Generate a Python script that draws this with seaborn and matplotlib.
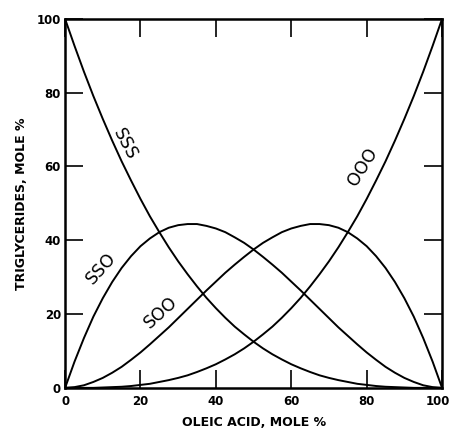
import pandas as pd
import seaborn as sns
import matplotlib
matplotlib.use("Agg")
import matplotlib.pyplot as plt
from matplotlib.transforms import ScaledTranslation

# oleic acid, mole %
oleic = [0, 2.5, 5, 7.5, 10, 12.5, 15, 17.5, 20, 22.5, 25, 27.5, 30, 32.5, 35, 37.5, 40,
         42.5, 45, 47.5, 50, 52.5, 55, 57.5, 60, 62.5, 65, 67.5, 70, 72.5, 75, 77.5, 80,
         82.5, 85, 87.5, 90, 92.5, 95, 97.5, 100]

# triglyceride composition, mole %
sss = [100, 92.7, 85.7, 79.1, 72.9, 67.0, 61.4, 56.2, 51.2, 46.5, 42.2, 38.1, 34.3, 30.8,
       27.5, 24.4, 21.6, 19.0, 16.6, 14.5, 12.5, 10.7, 9.1, 7.7, 6.4, 5.3, 4.3, 3.4, 2.7,
       2.1, 1.6, 1.1, 0.8, 0.5, 0.3, 0.2, 0.1, 0.0, 0.0, 0.0, 0]
sso = [0, 7.1, 13.5, 19.3, 24.3, 28.7, 32.5, 35.7, 38.4, 40.5, 42.2, 43.4, 44.1, 44.4,
       44.4, 43.9, 43.2, 42.2, 40.8, 39.3, 37.5, 35.5, 33.4, 31.2, 28.8, 26.4, 23.9, 21.4,
       18.9, 16.4, 14.1, 11.8, 9.6, 7.6, 5.7, 4.1, 2.7, 1.6, 0.7, 0.2, 0]
soo = [0, 0.2, 0.7, 1.6, 2.7, 4.1, 5.7, 7.6, 9.6, 11.8, 14.1, 16.4, 18.9, 21.4, 23.9,
       26.4, 28.8, 31.2, 33.4, 35.5, 37.5, 39.3, 40.8, 42.2, 43.2, 43.9, 44.4, 44.4, 44.1,
       43.4, 42.2, 40.5, 38.4, 35.7, 32.5, 28.7, 24.3, 19.3, 13.5, 7.1, 0]
ooo = [0, 0.0, 0.0, 0.0, 0.1, 0.2, 0.3, 0.5, 0.8, 1.1, 1.6, 2.1, 2.7, 3.4, 4.3, 5.3, 6.4,
       7.7, 9.1, 10.7, 12.5, 14.5, 16.6, 19.0, 21.6, 24.4, 27.5, 30.8, 34.3, 38.1, 42.2,
       46.5, 51.2, 56.2, 61.4, 67.0, 72.9, 79.1, 85.7, 92.7, 100]

ticks = [0, 20, 40, 60, 80, 100]
tick_labels = ["0", "20", "40", "60", "80", "100"]

df = pd.DataFrame({"oleic": oleic, "SSS": sss, "SSO": sso, "SOO": soo, "OOO": ooo})
long = df.melt(id_vars="oleic", var_name="tg", value_name="pct")

sns.set_style("ticks")
plt.rcParams["font.family"] = ["DejaVu Sans"]
plt.rcParams["text.color"] = "black"
plt.rcParams["axes.labelcolor"] = "black"
plt.rcParams["xtick.color"] = "black"
plt.rcParams["ytick.color"] = "black"

fig = plt.figure(figsize=(4.52, 4.30), dpi=100)
ax = fig.add_axes([0.144, 0.098, 0.834, 0.858])

sns.lineplot(data=long, x="oleic", y="pct", hue="tg", units="tg", estimator=None,
             palette=["black"] * 4, linewidth=1.4, legend=False, ax=ax)

ax.set_xlim(0, 100)
ax.set_ylim(0, 100)
ax.set_xticks(ticks)
ax.set_yticks(ticks)
ax.set_xticklabels(tick_labels, fontsize=8.5, fontweight="bold")
ax.set_yticklabels(tick_labels, fontsize=8.5, fontweight="bold")
ax.tick_params(direction="in", length=13, width=1.2, top=True, right=True,
               labeltop=False, labelright=False, pad=3)
ax.tick_params(axis="x", pad=5)
# nudge the last x label so it stays inside the figure
last = ax.get_xticklabels()[-1]
last.set_transform(last.get_transform() + ScaledTranslation(-3 / 72, 0, fig.dpi_scale_trans))
for sp in ax.spines.values():
    sp.set_linewidth(1.8)
    sp.set_color("black")

ax.set_xlabel("OLEIC ACID, MOLE %", fontsize=9, fontweight="bold", labelpad=6)
ax.set_ylabel("TRIGLYCERIDES, MOLE %", fontsize=9, fontweight="bold", labelpad=6)

lab_kw = dict(fontsize=12.5, ha="center", va="center", rotation_mode="anchor")
ax.text(16.0, 66.0, "SSS", rotation=-62, **lab_kw)
ax.text(9.5, 32.5, "SSO", rotation=48, **lab_kw)
ax.text(25.5, 20.5, "SOO", rotation=42, **lab_kw)
ax.text(79, 60, "OOO", rotation=58, **lab_kw)

fig.savefig("out.png", dpi=100)
